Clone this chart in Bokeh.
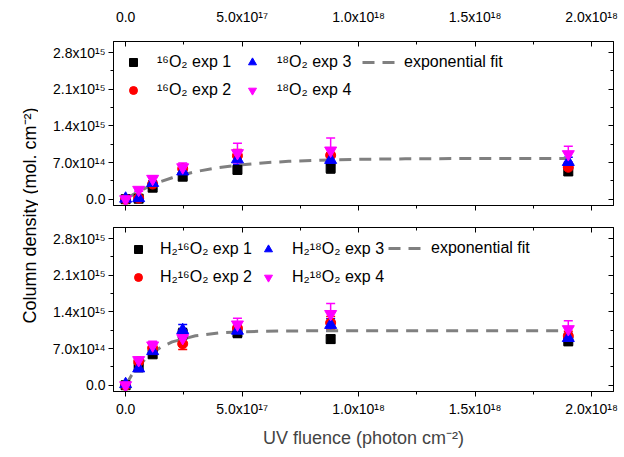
from bokeh.plotting import figure
from bokeh.models import (ColumnDataSource, Whisker, TeeHead, FixedTicker, CustomJSTickFormatter,
                          LinearAxis, Legend, LegendItem, Label, Range1d)
from bokeh.layouts import row, column
from bokeh.embed import file_html
from bokeh.resources import INLINE

# ---------------- data ----------------
fluence = [0.0, 5.6e16, 1.16e17, 2.45e17, 4.8e17, 8.8e17, 1.9e18]

# top panel: 16O2 / 18O2
o16_exp1 = [0.0, 0.1e14, 2.2e14, 4.3e14, 5.6e14, 5.9e14, 5.3e14]
o16_exp2 = [0.0, 0.2e14, 2.9e14, 5.8e14, 8.3e14, 8.4e14, 6.1e14]
o18_exp3 = [0.1e14, 0.2e14, 3.1e14, 5.3e14, 7.6e14, 7.5e14, 7.1e14]
o18_exp4 = [0.0, 1.8e14, 3.9e14, 6.1e14, 8.8e14, 9.3e14, 8.6e14]
o16_err1 = [0.1e14, 0.2e14, 0.3e14, 0.5e14, 0.8e14, 0.9e14, 0.7e14]
o16_err2 = [0.1e14, 0.2e14, 0.4e14, 0.7e14, 1.2e14, 1.2e14, 0.9e14]
o18_err3 = [0.1e14, 0.2e14, 0.4e14, 0.6e14, 1.0e14, 1.0e14, 0.9e14]
o18_err4 = [0.1e14, 0.3e14, 0.6e14, 0.8e14, 1.9e14, 2.4e14, 1.5e14]

# bottom panel: H2 16O2 / H2 18O2
h16_exp1 = [0.0, 3.4e14, 5.9e14, 9.8e14, 1.00e15, 8.8e14, 8.4e14]
h16_exp2 = [0.0, 4.5e14, 7.1e14, 7.9e14, 1.09e15, 1.19e15, 9.4e14]
h18_exp3 = [0.2e14, 3.2e14, 6.5e14, 1.05e15, 1.04e15, 1.15e15, 9.0e14]
h18_exp4 = [0.0, 4.8e14, 7.6e14, 9.0e14, 1.16e15, 1.36e15, 1.07e15]
h16_err1 = [0.1e14, 0.4e14, 0.6e14, 1.0e14, 0.9e14, 0.8e14, 0.8e14]
h16_err2 = [0.1e14, 0.5e14, 0.7e14, 1.1e14, 1.1e14, 1.2e14, 0.9e14]
h18_err3 = [0.1e14, 0.4e14, 0.6e14, 1.1e14, 1.1e14, 1.2e14, 0.9e14]
h18_err4 = [0.1e14, 0.5e14, 0.8e14, 1.0e14, 1.2e14, 2.0e14, 1.6e14]

# exponential fit curves
fit_x = [0.0, 2.5e16, 5e16, 1e17, 1.5e17, 2e17, 3e17, 4e17, 5e17, 6e17, 7e17, 8e17,
         1e18, 1.2e18, 1.5e18, 1.9e18]
top_fit = [0.0, 0.69e14, 1.33e14, 2.43e14, 3.35e14, 4.10e14, 5.26e14, 6.05e14, 6.59e14,
           6.97e14, 7.23e14, 7.40e14, 7.61e14, 7.71e14, 7.77e14, 7.79e14]
bottom_fit = [0.0, 1.87e14, 3.41e14, 5.70e14, 7.24e14, 8.27e14, 9.43e14, 9.97e14, 10.20e14,
              10.31e14, 10.36e14, 10.38e14, 10.40e14, 10.40e14, 10.40e14, 10.40e14]

top_labels = ["\u00b9\u2076O\u2082 exp 1", "\u00b9\u2076O\u2082 exp 2",
              "\u00b9\u2078O\u2082 exp 3", "\u00b9\u2078O\u2082 exp 4"]
bottom_labels = ["H\u2082\u00b9\u2076O\u2082 exp 1", "H\u2082\u00b9\u2076O\u2082 exp 2",
                 "H\u2082\u00b9\u2078O\u2082 exp 3", "H\u2082\u00b9\u2078O\u2082 exp 4"]
fit_label = "exponential fit"

x_ticks = [0.0, 5e17, 1e18, 1.5e18, 2e18]
x_minor = [2.5e17, 7.5e17, 1.25e18, 1.75e18]
x_tick_labels = ["0.0", "5.0x10\u00b9\u2077", "1.0x10\u00b9\u2078", "1.5x10\u00b9\u2078", "2.0x10\u00b9\u2078"]
y_ticks = [0.0, 7e14, 1.4e15, 2.1e15, 2.8e15]
y_minor = [3.5e14, 1.05e15, 1.75e15, 2.45e15]
y_tick_labels = ["0.0", "7.0x10\u00b9\u2074", "1.4x10\u00b9\u2075", "2.1x10\u00b9\u2075", "2.8x10\u00b9\u2075"]

x_title = "UV fluence (photon cm\u207b\u00b2)"
y_title = "Column density (mol. cm\u207b\u00b2)"

# ---------------- style ----------------
FONT = "Liberation Sans"
colors = ["black", "#ff0000", "#0000ff", "#ff00ff"]
markers = ["square", "circle", "triangle", "inverted_triangle"]
msizes = [9, 10, 12, 12]
FIT_COLOR = "#808080"

FMT_CODE = """
const i = tks.findIndex(t => Math.abs(t - tick) <= 1e-9 * Math.max(1, Math.abs(t)));
return i >= 0 ? lbls[i] : "";
"""


def fmt(tk, lb):
    return CustomJSTickFormatter(args=dict(tks=tk, lbls=lb), code=FMT_CODE)


def blank():
    return CustomJSTickFormatter(code="return '';")


def style_axis(ax, labeled, tin, tout):
    ax.axis_line_color = "black"
    ax.axis_line_width = 1
    ax.major_tick_line_color = "black"
    ax.minor_tick_line_color = "black"
    ax.major_tick_in = tin
    ax.major_tick_out = tout
    ax.minor_tick_in = 3 if tin else 0
    ax.minor_tick_out = 3 if tout else 0
    ax.major_label_text_font = FONT
    ax.major_label_text_font_size = "14px"
    ax.major_label_text_color = "black"
    if not labeled:
        ax.formatter = blank()
        ax.major_label_standoff = 0


def make_panel(height, top_border, bottom_border, ys, errs, labels, fit_y, top_panel, leg_pos):
    p = figure(width=586, height=height,
               x_range=Range1d(-5.2e16, 2.094e18),
               y_range=Range1d(-1.2e14, 3.01e15),
               x_axis_location="above" if top_panel else "below",
               output_backend="svg", toolbar_location=None,
               min_border_left=75, min_border_right=11,
               min_border_top=top_border, min_border_bottom=bottom_border)
    p.xgrid.visible = False
    p.ygrid.visible = False
    p.outline_line_color = "black"
    p.outline_line_width = 1
    p.background_fill_color = "white"
    p.border_fill_color = "white"

    xt = FixedTicker(ticks=x_ticks, minor_ticks=x_minor)
    yt = FixedTicker(ticks=y_ticks, minor_ticks=y_minor)

    # primary x axis
    xa = p.xaxis[0]
    xa.ticker = xt
    xa.formatter = fmt(x_ticks, x_tick_labels)
    if top_panel:
        style_axis(xa, True, 5, 0)
        xa.major_label_standoff = 17
    else:
        style_axis(xa, True, 0, 5)
        xa.major_label_standoff = 4
        xa.axis_label = x_title
        xa.axis_label_text_font = FONT
        xa.axis_label_text_font_size = "18px"
        xa.axis_label_text_font_style = "normal"
        xa.axis_label_standoff = 8
    # secondary x axis
    xa2 = LinearAxis(ticker=xt)
    if top_panel:
        style_axis(xa2, False, 0, 5)
        p.add_layout(xa2, "below")
    else:
        style_axis(xa2, False, 5, 0)
        p.add_layout(xa2, "above")

    ya = p.yaxis[0]
    ya.ticker = yt
    ya.formatter = fmt(y_ticks, y_tick_labels)
    style_axis(ya, True, 0, 5)
    ya.major_label_standoff = 3
    ya2 = LinearAxis(ticker=yt)
    style_axis(ya2, False, 5, 0)
    p.add_layout(ya2, "right")

    # fit
    fit_r = p.line(fit_x, fit_y, line_color=FIT_COLOR, line_width=3, line_dash="12 8")

    rends = []
    for y, e, c, m, s in zip(ys, errs, colors, markers, msizes):
        src = ColumnDataSource(dict(x=fluence, y=y,
                                    lo=[a - b for a, b in zip(y, e)],
                                    hi=[a + b for a, b in zip(y, e)]))
        w = Whisker(source=src, base="x", lower="lo", upper="hi", dimension="height",
                    line_color=c, line_width=1.5,
                    upper_head=TeeHead(size=9, line_color=c, line_width=1.5),
                    lower_head=TeeHead(size=9, line_color=c, line_width=1.5))
        p.add_layout(w)
        r = p.scatter("x", "y", source=src, marker=m, size=s, fill_color=c, line_color=c)
        rends.append(r)

    def mk_leg(items, loc, gw, standoff):
        leg = Legend(items=items, location=loc, orientation="vertical",
                     glyph_width=gw, glyph_height=20, label_height=20, spacing=8,
                     padding=0, margin=0, label_standoff=standoff,
                     label_text_font=FONT, label_text_font_size="16px",
                     label_text_color="black",
                     border_line_alpha=0, background_fill_alpha=0)
        p.add_layout(leg)

    (l1, l2, l3) = leg_pos
    mk_leg([LegendItem(label=labels[0], renderers=[rends[0]]),
            LegendItem(label=labels[1], renderers=[rends[1]])], l1[0], 20, l1[1])
    mk_leg([LegendItem(label=labels[2], renderers=[rends[2]]),
            LegendItem(label=labels[3], renderers=[rends[3]])], l2[0], 20, l2[1])
    mk_leg([LegendItem(label=fit_label, renderers=[fit_r])], l3[0], 33, l3[1])
    return p


top = make_panel(215, 41, 10,
                 [o16_exp1, o16_exp2, o18_exp3, o18_exp4],
                 [o16_err1, o16_err2, o18_err3, o18_err4],
                 top_labels, top_fit, True,
                 (((10, 105), 14), ((129, 105), 15), ((249, 133), 9)))
bottom = make_panel(242, 12, 66,
                    [h16_exp1, h16_exp2, h18_exp3, h18_exp4],
                    [h16_err1, h16_err2, h18_err3, h18_err4],
                    bottom_labels, bottom_fit, False,
                    (((15, 104), 12), ((145, 104), 14), ((275, 133), 10)))

lab = figure(width=38, height=457, x_axis_type=None, y_axis_type=None,
             output_backend="svg", toolbar_location=None,
             min_border=0, outline_line_color=None)
lab.xgrid.visible = False
lab.ygrid.visible = False
lab.add_layout(Label(x=29, y=242, x_units="screen", y_units="screen", text=y_title,
                     angle=90, angle_units="deg", text_align="center", text_baseline="middle",
                     text_font=FONT, text_font_size="18px", text_color="black"))

layout = row(lab, column(top, bottom))
open("out.html", "w").write(file_html(layout, INLINE))
